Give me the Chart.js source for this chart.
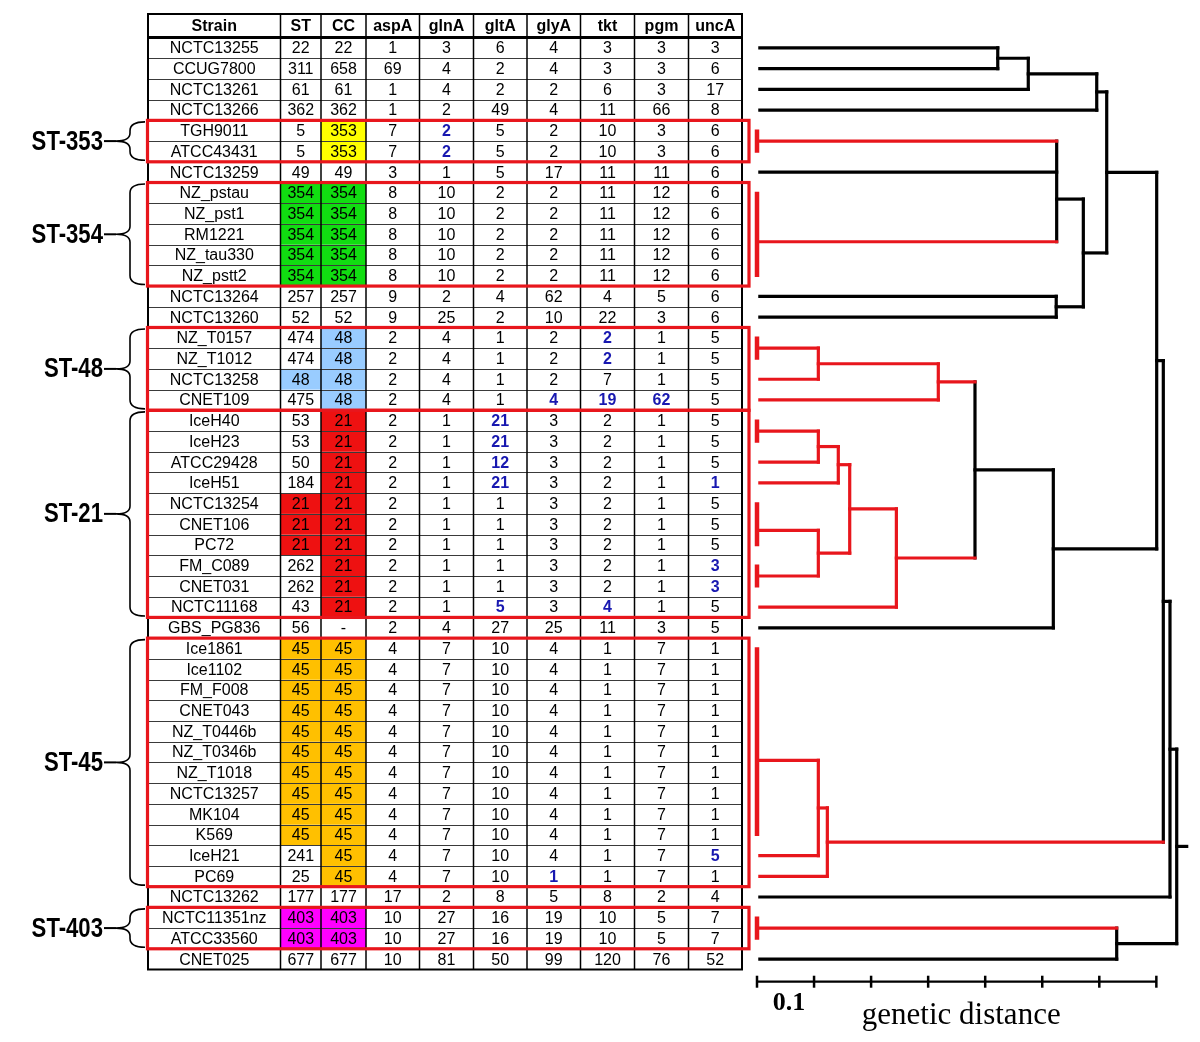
<!DOCTYPE html>
<html>
<head>
<meta charset="utf-8">
<title>MLST profiles and genetic distance</title>
<script src="https://cdn.jsdelivr.net/npm/chart.js@4.4.1/dist/chart.umd.min.js"></script>
<style>
  html, body { margin: 0; padding: 0; background: #fff; overflow: hidden; }
  #tree { display: block; }
</style>
</head>
<body>
<canvas id="tree" width="1200" height="1042"></canvas>
<script>
// ---- table data (one entry per strain, top to bottom) ----
const strains = ['NCTC13255', 'CCUG7800', 'NCTC13261', 'NCTC13266', 'TGH9011', 'ATCC43431', 'NCTC13259',
  'NZ_pstau', 'NZ_pst1', 'RM1221', 'NZ_tau330', 'NZ_pstt2', 'NCTC13264', 'NCTC13260',
  'NZ_T0157', 'NZ_T1012', 'NCTC13258', 'CNET109',
  'IceH40', 'IceH23', 'ATCC29428', 'IceH51', 'NCTC13254', 'CNET106', 'PC72', 'FM_C089', 'CNET031', 'NCTC11168',
  'GBS_PG836',
  'Ice1861', 'Ice1102', 'FM_F008', 'CNET043', 'NZ_T0446b', 'NZ_T0346b', 'NZ_T1018', 'NCTC13257', 'MK104', 'K569', 'IceH21', 'PC69',
  'NCTC13262', 'NCTC11351nz', 'ATCC33560', 'CNET025'];
const st   = [22, 311, 61, 362, 5, 5, 49, 354, 354, 354, 354, 354, 257, 52, 474, 474, 48, 475,
  53, 53, 50, 184, 21, 21, 21, 262, 262, 43, 56, 45, 45, 45, 45, 45, 45, 45, 45, 45, 45, 241, 25, 177, 403, 403, 677];
const cc   = [22, 658, 61, 362, 353, 353, 49, 354, 354, 354, 354, 354, 257, 52, 48, 48, 48, 48,
  21, 21, 21, 21, 21, 21, 21, 21, 21, 21, '-', 45, 45, 45, 45, 45, 45, 45, 45, 45, 45, 45, 45, 177, 403, 403, 677];
const aspA = [1, 69, 1, 1, 7, 7, 3, 8, 8, 8, 8, 8, 9, 9, 2, 2, 2, 2, 2, 2, 2, 2, 2, 2, 2, 2, 2, 2, 2,
  4, 4, 4, 4, 4, 4, 4, 4, 4, 4, 4, 4, 17, 10, 10, 10];
const glnA = [3, 4, 4, 2, 2, 2, 1, 10, 10, 10, 10, 10, 2, 25, 4, 4, 4, 4, 1, 1, 1, 1, 1, 1, 1, 1, 1, 1, 4,
  7, 7, 7, 7, 7, 7, 7, 7, 7, 7, 7, 7, 2, 27, 27, 81];
const gltA = [6, 2, 2, 49, 5, 5, 5, 2, 2, 2, 2, 2, 4, 2, 1, 1, 1, 1, 21, 21, 12, 21, 1, 1, 1, 1, 1, 5, 27,
  10, 10, 10, 10, 10, 10, 10, 10, 10, 10, 10, 10, 8, 16, 16, 50];
const glyA = [4, 4, 2, 4, 2, 2, 17, 2, 2, 2, 2, 2, 62, 10, 2, 2, 2, 4, 3, 3, 3, 3, 3, 3, 3, 3, 3, 3, 25,
  4, 4, 4, 4, 4, 4, 4, 4, 4, 4, 4, 1, 5, 19, 19, 99];
const tkt  = [3, 3, 6, 11, 10, 10, 11, 11, 11, 11, 11, 11, 4, 22, 2, 2, 7, 19, 2, 2, 2, 2, 2, 2, 2, 2, 2, 4, 11,
  1, 1, 1, 1, 1, 1, 1, 1, 1, 1, 1, 1, 8, 10, 10, 120];
const pgm  = [3, 3, 3, 66, 3, 3, 11, 12, 12, 12, 12, 12, 5, 3, 1, 1, 1, 62, 1, 1, 1, 1, 1, 1, 1, 1, 1, 1, 3,
  7, 7, 7, 7, 7, 7, 7, 7, 7, 7, 7, 7, 2, 5, 5, 76];
const uncA = [3, 6, 17, 8, 6, 6, 6, 6, 6, 6, 6, 6, 6, 6, 5, 5, 5, 5, 5, 5, 5, 1, 5, 5, 5, 3, 3, 5, 5,
  1, 1, 1, 1, 1, 1, 1, 1, 1, 1, 5, 1, 4, 7, 7, 52];
const locusNames = ['aspA', 'glnA', 'gltA', 'glyA', 'tkt', 'pgm', 'uncA'];
const locusValues = [aspA, glnA, gltA, glyA, tkt, pgm, uncA];

// alleles that differ from the rest of their complex: [row, locus]
const novelAlleles = [[4, 'glnA'], [5, 'glnA'], [14, 'tkt'], [15, 'tkt'], [17, 'glyA'], [17, 'tkt'], [17, 'pgm'],
  [18, 'gltA'], [19, 'gltA'], [20, 'gltA'], [21, 'gltA'], [21, 'uncA'], [25, 'uncA'], [26, 'uncA'],
  [27, 'gltA'], [27, 'tkt'], [39, 'uncA'], [40, 'glyA']];

// clonal complexes boxed in red: [label, first row, last row]
const complexes = [['ST-353', 4, 5], ['ST-354', 7, 11], ['ST-48', 14, 17], ['ST-21', 18, 27], ['ST-45', 29, 40], ['ST-403', 42, 43]];

// ---- tree data ----
// collapsed identical profiles: [first row, last row, row where the branch leaves the bar]
const collapsed = [[4, 5, 4.5], [7, 11, 9.36], [14, 15, 14.5], [18, 19, 18.5], [22, 24, 23.3], [25, 26, 25.5], [29, 38, 34.4], [42, 43, 42.5]];
// internal nodes: [id, genetic distance, children, optional row override]
// children: number = strain row, 'bN' = collapsed[N], 'nN' = node
const treeNodes = [
  ['n1', 0.422, [0, 1]],
  ['n2', 0.4755, ['n1', 2]],
  ['n3', 0.5955, ['n2', 3]],
  ['n4', 0.5253, ['b0', 6, 'b1'], 7.3],
  ['n5', 0.5245, [12, 13]],
  ['n6', 0.572, ['n4', 'n5']],
  ['n7', 0.613, ['n3', 'n6']],
  ['n8', 0.1075, ['b2', 16]],
  ['n9', 0.3178, ['n8', 17]],
  ['n10', 0.1075, ['b3', 20]],
  ['n11', 0.1425, ['n10', 21]],
  ['n12', 0.1075, ['b4', 'b5']],
  ['n13', 0.1625, ['n11', 'n12']],
  ['n14', 0.2443, ['n13', 27]],
  ['n15', 0.3821, ['n9', 'n14']],
  ['n16', 0.5194, ['n15', 28]],
  ['n17', 0.7006, ['n7', 'n16']],
  ['n18', 0.1075, ['b6', 39]],
  ['n19', 0.1233, ['n18', 40]],
  ['n20', 0.7122, ['n17', 'n19']],
  ['n21', 0.7239, ['n20', 41]],
  ['n22', 0.6305, ['b7', 44]],
  ['n23', 0.7357, ['n21', 'n22']]
];
const rootTip = 0.7532;
const scaleTicks = [0, 0.1, 0.2, 0.3, 0.4, 0.5, 0.6, 0.7];
const scaleRow = 45.09;

// ---- styles ----
const RED = '#e8161c';
const BLUE = '#1818b0';
const ccFill = { 353: '#ffff00', 354: '#11dd11', 48: '#99ccff', 21: '#ee1111', 45: '#ffc000', 403: '#ff00ff' };
const colEdges = [148, 280.5, 321, 366, 419.5, 473.5, 527, 580.5, 634.5, 688.5, 742];
const headerTop = 14;
const leafStart = 0.005;
const bodyFont = '16px "Liberation Sans", Arial, sans-serif';

function complexOf(row) {
  const c = complexes.find(g => row >= g[1] && row <= g[2]);
  return c ? c[0] : null;
}

// ---- build dendrogram segments ----
const segments = [];
const placed = {};

function kidInfo(k) {
  if (typeof k === 'number') return { h: leafStart, y: k, rows: [k] };
  if (k[0] === 'b') {
    const b = collapsed[+k.slice(1)];
    const rows = [];
    for (let r = b[0]; r <= b[1]; r++) rows.push(r);
    return { h: 0, y: b[2], rows };
  }
  return placed[k];
}

function colourOf(rows) {
  const g = complexOf(rows[0]);
  return g && rows.every(r => complexOf(r) === g) ? RED : '#000';
}

collapsed.forEach(b => {
  segments.push({ pts: [[0, b[0] - 0.06], [0, b[1] + 0.06]], colour: RED, width: 4.5, cap: 'butt' });
});

let root = null;
treeNodes.forEach(([id, h, kids, at]) => {
  const infos = kids.map(kidInfo);
  const rows = infos.flatMap(k => k.rows);
  const ys = infos.map(k => k.y);
  const y = at !== undefined ? at : (ys[0] + ys[ys.length - 1]) / 2;
  const colour = colourOf(rows);
  infos.forEach(k => {
    segments.push({ pts: [[k.h, k.y], [h, k.y]], colour: colourOf(k.rows), width: 3.2, cap: 'square' });
  });
  segments.push({ pts: [[h, Math.min(...ys)], [h, Math.max(...ys)]], colour, width: 3.2, cap: 'square' });
  placed[id] = { h, y, rows };
  root = placed[id];
});
segments.push({ pts: [[root.h, root.y], [rootTip, root.y]], colour: '#000', width: 3.2, cap: 'square' });

const datasets = segments.map(s => ({
  data: s.pts.map(p => ({ x: p[0], y: p[1] })),
  showLine: true,
  borderColor: s.colour,
  borderWidth: s.width,
  borderCapStyle: s.cap,
  pointRadius: 0,
  fill: false
}));

// scale bar
datasets.push({
  data: [{ x: scaleTicks[0], y: scaleRow }, { x: scaleTicks[scaleTicks.length - 1], y: scaleRow }],
  showLine: true, borderColor: '#000', borderWidth: 2.2, pointRadius: 0
});
datasets.push({
  data: scaleTicks.map(t => ({ x: t, y: scaleRow })),
  showLine: false, pointStyle: 'line', rotation: 90, pointRadius: 6,
  pointBorderColor: '#000', pointBorderWidth: 2.5
});

// ---- table, braces, labels ----
const tablePlugin = {
  id: 'mlstTable',
  beforeDraw(chart) {
    const ctx = chart.ctx;
    ctx.save();
    ctx.fillStyle = '#fff';
    ctx.fillRect(0, 0, chart.width, chart.height);
    ctx.restore();
  },
  afterDatasetsDraw(chart) {
    const ctx = chart.ctx;
    const ys = chart.scales.y;
    const xs = chart.scales.x;
    const top = r => ys.getPixelForValue(r - 0.5);
    const mid = r => ys.getPixelForValue(r);
    const n = strains.length;
    const bottom = top(n);
    const colMid = c => (colEdges[c] + colEdges[c + 1]) / 2;
    const isNovel = (r, loc) => novelAlleles.some(a => a[0] === r && a[1] === loc);

    ctx.save();
    // cell fills
    for (let r = 0; r < n; r++) {
      if (!complexOf(r)) continue;
      const fill = ccFill[cc[r]];
      if (!fill) continue;
      const y0 = top(r), y1 = top(r + 1);
      ctx.fillStyle = fill;
      ctx.fillRect(colEdges[2], y0, colEdges[3] - colEdges[2], y1 - y0);
      if (st[r] === cc[r]) ctx.fillRect(colEdges[1], y0, colEdges[2] - colEdges[1], y1 - y0);
    }

    // header
    ctx.textAlign = 'center';
    ctx.textBaseline = 'middle';
    ctx.fillStyle = '#000';
    ctx.font = 'bold 16px "Liberation Sans", Arial, sans-serif';
    const headers = ['Strain', 'ST', 'CC'].concat(locusNames);
    const hy = (headerTop + top(0)) / 2 + 1;
    headers.forEach((h, c) => ctx.fillText(h, colMid(c), hy));

    // body
    for (let r = 0; r < n; r++) {
      const y = mid(r) + 1;
      ctx.font = bodyFont;
      ctx.fillStyle = '#000';
      ctx.fillText(strains[r], colMid(0), y);
      ctx.fillText(String(st[r]), colMid(1), y);
      ctx.fillText(String(cc[r]), colMid(2), y);
      locusNames.forEach((loc, i) => {
        const novel = isNovel(r, loc);
        ctx.font = (novel ? 'bold ' : '') + bodyFont;
        ctx.fillStyle = novel ? BLUE : '#000';
        ctx.fillText(String(locusValues[i][r]), colMid(i + 3), y);
      });
    }

    // grid
    ctx.strokeStyle = '#3a3a3a';
    ctx.lineWidth = 1;
    for (let r = 1; r < n; r++) {
      const y = Math.round(top(r)) + 0.5;
      ctx.beginPath(); ctx.moveTo(colEdges[0], y); ctx.lineTo(colEdges[colEdges.length - 1], y); ctx.stroke();
    }
    ctx.strokeStyle = '#000';
    ctx.lineWidth = 1.5;
    for (let c = 1; c < colEdges.length - 1; c++) {
      ctx.beginPath(); ctx.moveTo(colEdges[c], headerTop); ctx.lineTo(colEdges[c], bottom); ctx.stroke();
    }
    ctx.lineWidth = 3;
    ctx.beginPath(); ctx.moveTo(colEdges[0], top(0)); ctx.lineTo(colEdges[colEdges.length - 1], top(0)); ctx.stroke();
    ctx.lineWidth = 2;
    ctx.strokeRect(colEdges[0], headerTop, colEdges[colEdges.length - 1] - colEdges[0], bottom - headerTop);

    // complex boxes, braces and labels
    complexes.forEach(([label, r0, r1]) => {
      const y0 = top(r0), y1 = top(r1 + 1), ym = (y0 + y1) / 2;
      ctx.strokeStyle = RED;
      ctx.lineWidth = 3.2;
      ctx.strokeRect(147.5, y0, 601.5, y1 - y0);

      ctx.strokeStyle = '#000';
      ctx.lineWidth = 1.6;
      const sx = 130, ex = 145, tx = 116, yt = y0 + 1.5, yb = y1 - 1.5;
      ctx.beginPath();
      ctx.moveTo(ex, yt);
      ctx.quadraticCurveTo(sx, yt, sx, yt + 9);
      ctx.lineTo(sx, ym - 8);
      ctx.quadraticCurveTo(sx, ym, tx, ym);
      ctx.quadraticCurveTo(sx, ym, sx, ym + 8);
      ctx.lineTo(sx, yb - 9);
      ctx.quadraticCurveTo(sx, yb, ex, yb);
      ctx.stroke();
      ctx.lineWidth = 2;
      ctx.beginPath(); ctx.moveTo(104, ym); ctx.lineTo(tx, ym); ctx.stroke();

      // narrow bold label: squeeze a regular bold face horizontally
      ctx.save();
      ctx.translate(103, ym + 1);
      ctx.scale(0.82, 1);
      ctx.fillStyle = '#000';
      ctx.textAlign = 'right';
      ctx.font = 'bold 27px "Liberation Sans", Arial, sans-serif';
      ctx.fillText(label, 0, 0);
      ctx.restore();
    });

    // scale bar labels
    ctx.fillStyle = '#000';
    ctx.textAlign = 'center';
    ctx.textBaseline = 'alphabetic';
    ctx.font = 'bold 26px "Liberation Serif", "Times New Roman", serif';
    ctx.fillText('0.1', xs.getPixelForValue(0.056), ys.getPixelForValue(scaleRow) + 28);
    ctx.font = '31px "Liberation Serif", "Times New Roman", serif';
    ctx.fillText('genetic distance', xs.getPixelForValue(0.358), ys.getPixelForValue(scaleRow) + 42);
    ctx.restore();
  }
};

// scales: x = genetic distance (0 at the leaf edge), y = strain row (0 = first strain)
const pxPerUnit = 570.5, leafEdgePx = 757;
const pxPerRow = 20.71, firstRowPx = 47.9;

new Chart(document.getElementById('tree'), {
  type: 'scatter',
  data: { datasets },
  options: {
    responsive: false,
    animation: false,
    events: [],
    layout: { padding: 0, autoPadding: false },
    plugins: { legend: { display: false }, tooltip: { enabled: false } },
    scales: {
      x: { type: 'linear', display: false, min: -leafEdgePx / pxPerUnit, max: (1200 - leafEdgePx) / pxPerUnit },
      y: { type: 'linear', display: false, reverse: true, min: -firstRowPx / pxPerRow, max: (1042 - firstRowPx) / pxPerRow }
    }
  },
  plugins: [tablePlugin]
});
</script>
</body>
</html>
